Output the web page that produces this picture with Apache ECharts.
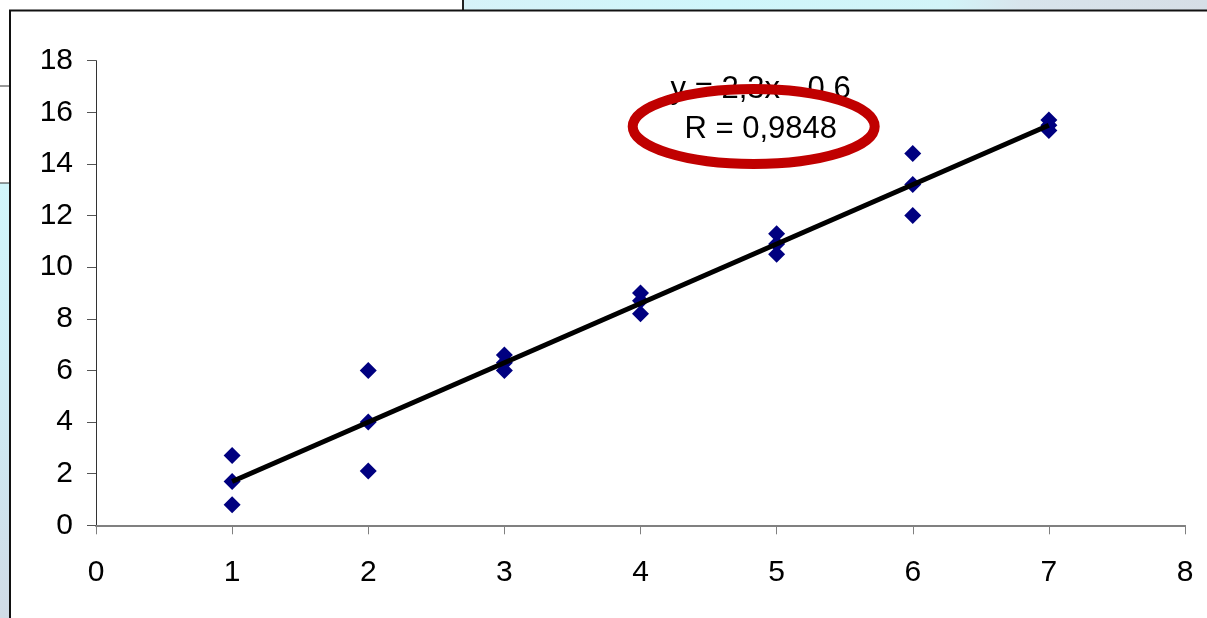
<!DOCTYPE html>
<html>
<head>
<meta charset="utf-8">
<script src="https://cdn.jsdelivr.net/npm/echarts@6/dist/echarts.min.js"></script>
<style>
  html, body { margin: 0; padding: 0; background: #ffffff; }
  #chart { width: 1207px; height: 618px; }
</style>
</head>
<body>
<div id="chart"></div>
<script>
// Measured points: three repeats at each x
const xValues = [1, 1, 1, 2, 2, 2, 3, 3, 3, 4, 4, 4, 5, 5, 5, 6, 6, 6, 7, 7, 7];
const yValues = [2.7, 1.7, 0.8, 6.0, 4.0, 2.1, 6.6, 6.3, 6.0, 9.0, 8.7, 8.2, 11.3, 10.9, 10.5, 14.4, 13.2, 12.0, 15.7, 15.5, 15.3];

// Fitted line y = 2,3x - 0,6 at its two ends
const trendX = [1, 7];
const trendY = [1.7, 15.5];

// Axis ranges and tick labels
const xTicks = ['0', '1', '2', '3', '4', '5', '6', '7', '8'];
const yTicks = ['0', '2', '4', '6', '8', '10', '12', '14', '16', '18'];

const equationText = 'y = 2,3x - 0,6';
const rText = 'R = 0,9848';

const FONT = '"Liberation Sans", Arial, sans-serif';

const points = xValues.map((x, i) => [x, yValues[i]]);
const trend = trendX.map((x, i) => [x, trendY[i]]);

const chart = echarts.init(document.getElementById('chart'), null, { renderer: 'canvas' });

chart.setOption({
  animation: false,
  backgroundColor: '#ffffff',
  grid: {
    left: 96, right: 22, top: 60.7, bottom: 92.7,
    containLabel: false,
    outerBoundsMode: 'none'
  },
  xAxis: {
    type: 'value',
    min: 0, max: xTicks.length - 1, interval: 1,
    axisLine: { show: true, onZero: false, lineStyle: { color: '#808080', width: 2 } },
    axisTick: { show: true, inside: false, length: 9, lineStyle: { color: '#808080', width: 1 } },
    splitLine: { show: false },
    axisLabel: {
      margin: 32,
      color: '#000',
      fontFamily: FONT,
      fontSize: 30,
      formatter: (v) => xTicks[Math.round(v)]
    }
  },
  yAxis: {
    type: 'value',
    min: 0, max: 18, interval: 2,
    axisLine: { show: true, onZero: false, lineStyle: { color: '#333333', width: 1 } },
    axisTick: { show: true, inside: false, length: 9, lineStyle: { color: '#555555', width: 1 } },
    splitLine: { show: false },
    axisLabel: {
      margin: 23,
      color: '#000',
      fontFamily: FONT,
      fontSize: 30,
      formatter: (v) => yTicks[Math.round(v / 2)]
    }
  },
  series: [
    {
      type: 'scatter',
      data: points,
      symbol: 'diamond',
      symbolSize: 17,
      itemStyle: { color: '#000080', opacity: 1 },
      z: 2
    },
    {
      type: 'line',
      data: trend,
      symbol: 'none',
      lineStyle: { color: '#000000', width: 5 },
      z: 3
    }
  ],
  graphic: [
    // surrounding slide decoration
    {
      type: 'rect', silent: true, z: -10,
      shape: { x: 463, y: 0, width: 744, height: 10 },
      style: {
        fill: new echarts.graphic.LinearGradient(0, 0, 1, 0, [
          { offset: 0, color: '#d6f2f8' },
          { offset: 0.35, color: '#cff6fb' },
          { offset: 0.65, color: '#d2f4f8' },
          { offset: 0.75, color: '#d8e4ec' },
          { offset: 1, color: '#d6dee6' }
        ])
      }
    },
    {
      type: 'line', silent: true, z: -9,
      shape: { x1: 463, y1: 0, x2: 463, y2: 10 },
      style: { stroke: '#222', lineWidth: 2 }
    },
    {
      type: 'rect', silent: true, z: -10,
      shape: { x: 0, y: 183, width: 10, height: 435 },
      style: {
        fill: new echarts.graphic.LinearGradient(0, 0, 0, 1, [
          { offset: 0, color: '#d2f6fb' },
          { offset: 0.4, color: '#cfeef6' },
          { offset: 1, color: '#d0dbe6' }
        ])
      }
    },
    {
      type: 'line', silent: true, z: -9,
      shape: { x1: 0, y1: 86, x2: 10, y2: 86 },
      style: { stroke: '#333', lineWidth: 1 }
    },
    {
      type: 'line', silent: true, z: -9,
      shape: { x1: 0, y1: 183, x2: 10, y2: 183 },
      style: { stroke: '#333', lineWidth: 1 }
    },
    // chart frame
    {
      type: 'rect', silent: true, z: -8,
      shape: { x: 10, y: 10.5, width: 1210, height: 620 },
      style: { fill: '#ffffff', stroke: '#111111', lineWidth: 2 }
    },
    // fitted line annotation
    {
      type: 'text', silent: true, z: 10,
      x: 760.6, y: 89,
      style: {
        text: equationText,
        font: '31px ' + FONT,
        fill: '#000',
        align: 'center',
        verticalAlign: 'middle'
      }
    },
    {
      type: 'text', silent: true, z: 10,
      x: 760.7, y: 129,
      style: {
        text: rText,
        font: '31px ' + FONT,
        fill: '#000',
        align: 'center',
        verticalAlign: 'middle'
      }
    },
    {
      type: 'ellipse', silent: true, z: 11,
      shape: { cx: 753.7, cy: 126.5, rx: 121, ry: 37.5 },
      style: { fill: 'none', stroke: '#c00000', lineWidth: 10 }
    }
  ]
});
</script>
</body>
</html>
